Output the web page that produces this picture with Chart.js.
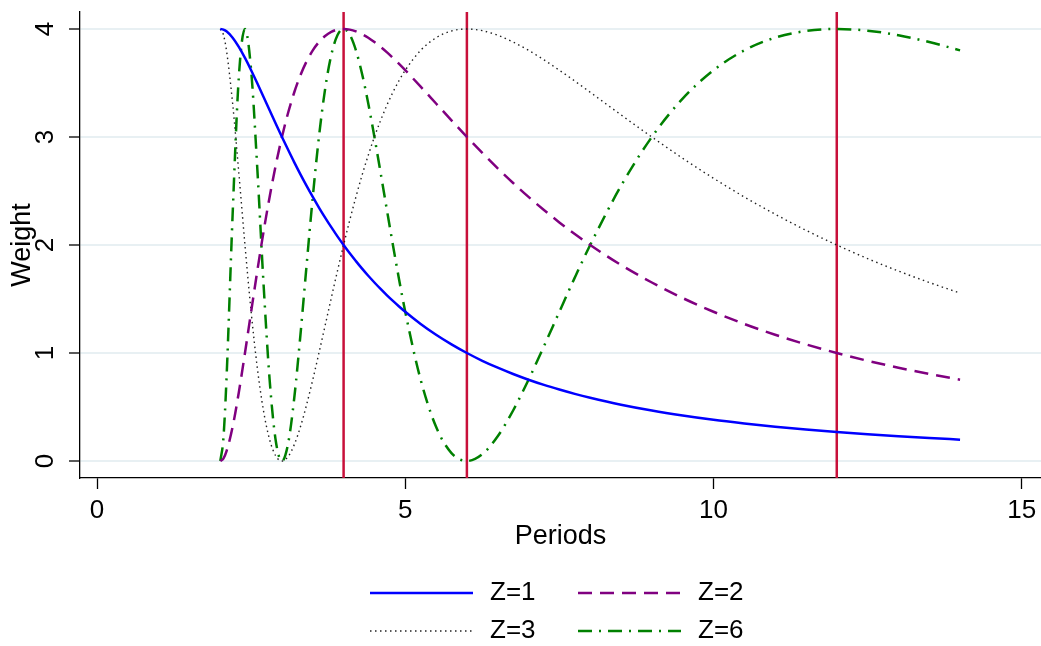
<!DOCTYPE html>
<html><head><meta charset="utf-8">
<script src="https://cdn.jsdelivr.net/npm/chart.js@4.4.0/dist/chart.umd.min.js"></script>
<style>html,body{margin:0;padding:0;background:#fff;}#wrap{width:1041px;height:646px;}</style>
</head><body><div id="wrap"><canvas id="c" width="1041" height="646"></canvas></div>
<script>
// ---- data ----
const periods = [2.0,2.05,2.1,2.2,2.3,2.4,2.5,2.6,2.7,2.8,2.9,3.0,3.1,3.2,3.3,3.4,3.5,3.6,3.7,3.8,3.9,4.0,
  4.1,4.2,4.3,4.4,4.5,4.6,4.7,4.8,4.9,5.0,5.25,5.5,5.75,6.0,6.25,6.5,6.75,7.0,7.25,7.5,7.75,8.0,
  8.5,9.0,9.5,10.0,10.5,11.0,11.5,12.0,12.5,13.0,13.5,14.0];
const z1 = [4.000,3.994,3.978,3.919,3.834,3.732,3.618,3.497,3.372,3.247,3.122,3.000,2.881,2.765,2.654,2.547,2.445,2.347,2.254,2.165,2.080,2.000,
  1.923,1.851,1.781,1.715,1.653,1.593,1.536,1.482,1.431,1.382,1.269,1.169,1.080,1.000,0.928,0.864,0.806,0.753,0.705,0.662,0.622,0.586,
  0.522,0.468,0.422,0.382,0.348,0.317,0.291,0.268,0.247,0.229,0.213,0.198];
const z2 = [0.000,0.023,0.089,0.317,0.635,1.000,1.382,1.759,2.118,2.445,2.741,3.000,3.224,3.414,3.572,3.700,3.802,3.879,3.935,3.973,3.994,4.000,
  3.994,3.978,3.952,3.919,3.879,3.834,3.785,3.732,3.676,3.618,3.466,3.310,3.154,3.000,2.852,2.709,2.574,2.445,2.324,2.209,2.101,2.000,
  1.815,1.653,1.509,1.382,1.269,1.169,1.080,1.000,0.928,0.864,0.806,0.753];
const z3 = [4.000,3.947,3.801,3.310,2.670,2.000,1.382,0.864,0.468,0.198,0.046,0.000,0.041,0.152,0.317,0.522,0.753,1.000,1.254,1.509,1.759,2.000,
  2.230,2.445,2.647,2.831,3.000,3.153,3.291,3.414,3.523,3.618,3.802,3.919,3.981,4.000,3.984,3.942,3.879,3.802,3.714,3.618,3.518,3.414,
  3.205,3.000,2.803,2.618,2.445,2.285,2.136,2.000,1.874,1.759,1.653,1.555];
const z6 = [0.000,0.208,0.753,2.284,3.552,4.000,3.618,2.709,1.653,0.753,0.185,0.000,0.162,0.586,1.169,1.815,2.445,3.000,3.443,3.759,3.942,4.000,
  3.947,3.802,3.583,3.310,3.000,2.670,2.333,2.000,1.681,1.382,0.753,0.317,0.074,0.000,0.063,0.229,0.468,0.753,1.063,1.382,1.698,2.000,
  2.547,3.000,3.355,3.618,3.802,3.919,3.981,4.000,3.984,3.942,3.879,3.802];
const seriesLabels = ['Z=1','Z=2','Z=3','Z=6'];
const xTicks = [0,5,10,15];
const yTicks = [0,1,2,3,4];
const markerPeriods = [4,6,12];
const xTitle = 'Periods';
const yTitle = 'Weight';

// ---- styles ----
const FONT = '"Liberation Sans", Arial, sans-serif';
const styles = [
  {color:'#0000FF', width:2.5, dash:[]},
  {color:'#800080', width:2.5, dash:[14,8]},
  {color:'#222222', width:1.4, dash:[1.5,3.5]},
  {color:'#008000', width:2.5, dash:[14,7,2,7]}
];
const seriesValues = [z1,z2,z3,z6];

const datasets = seriesValues.map((vals,i)=>({
  label: seriesLabels[i],
  data: periods.map((p,k)=>({x:p, y:vals[k]})),
  borderColor: styles[i].color,
  borderWidth: styles[i].width,
  borderDash: styles[i].dash,
  pointRadius: 0,
  fill: false,
  cubicInterpolationMode: 'monotone'
}));

const decor = {
  id:'decor',
  beforeDatasetsDraw(chart){
    const {ctx, chartArea, scales:{x}} = chart;
    ctx.save();
    ctx.strokeStyle = '#C8103A';
    ctx.lineWidth = 2.5;
    markerPeriods.forEach(v=>{
      const px = x.getPixelForValue(v);
      ctx.beginPath(); ctx.moveTo(px, chartArea.top); ctx.lineTo(px, chartArea.bottom); ctx.stroke();
    });
    ctx.restore();
  },
  afterDraw(chart){
    const {ctx, chartArea, scales:{x,y}} = chart;
    ctx.save();
    ctx.fillStyle = '#000';
    ctx.textBaseline = 'middle';
    ctx.textAlign = 'center';
    ctx.font = '26px ' + FONT;
    xTicks.forEach(v=>{ ctx.fillText(String(v), x.getPixelForValue(v), 511); });
    yTicks.forEach(v=>{
      ctx.save(); ctx.translate(46, y.getPixelForValue(v)); ctx.rotate(-Math.PI/2);
      ctx.fillText(String(v), 0, 0); ctx.restore();
    });
    ctx.font = '27px ' + FONT;
    ctx.fillText(xTitle, (chartArea.left+chartArea.right)/2, 537);
    ctx.save(); ctx.translate(23, (chartArea.top+chartArea.bottom)/2); ctx.rotate(-Math.PI/2);
    ctx.fillText(yTitle, 0, 0); ctx.restore();
    // legend
    const colX = [370, 578], txtX = [490, 698], rowY = [593, 631];
    ctx.font = '26px ' + FONT;
    ctx.textAlign = 'left';
    chart.data.datasets.forEach((ds,i)=>{
      const c = i%2, r = Math.floor(i/2);
      ctx.save();
      ctx.strokeStyle = ds.borderColor; ctx.lineWidth = ds.borderWidth; ctx.setLineDash(ds.borderDash);
      ctx.beginPath(); ctx.moveTo(colX[c], rowY[r]); ctx.lineTo(colX[c]+103, rowY[r]); ctx.stroke();
      ctx.restore();
      ctx.fillText(ds.label, txtX[c], rowY[r]);
    });
    ctx.restore();
  }
};

new Chart(document.getElementById('c'), {
  type:'line',
  data:{datasets},
  options:{
    responsive:false, animation:false, devicePixelRatio:1,
    layout:{padding:{top:12,left:0,right:0,bottom:0}},
    plugins:{legend:{display:false}, tooltip:{enabled:false}},
    scales:{
      x:{type:'linear', min:-0.276, max:15.313,
        afterBuildTicks:s=>{ s.ticks = xTicks.map(v=>({value:v})); },
        afterFit:s=>{ s.height = 168; },
        ticks:{display:false},
        grid:{display:true, drawOnChartArea:false, drawTicks:true, tickLength:11, color:'#000', tickColor:'#000', tickWidth:1.3},
        border:{display:true, color:'#000', width:1.3}
      },
      y:{type:'linear', min:-0.157, max:4.157,
        afterBuildTicks:s=>{ s.ticks = yTicks.map(v=>({value:v})); },
        afterFit:s=>{ s.width = 80; },
        ticks:{display:false},
        grid:{display:true, drawOnChartArea:true, drawTicks:true, tickLength:11, color:'#E8F0F3', lineWidth:2, tickColor:'#000', tickWidth:1.3},
        border:{display:true, color:'#000', width:1.3}
      }
    }
  },
  plugins:[decor]
});
</script></body></html>
